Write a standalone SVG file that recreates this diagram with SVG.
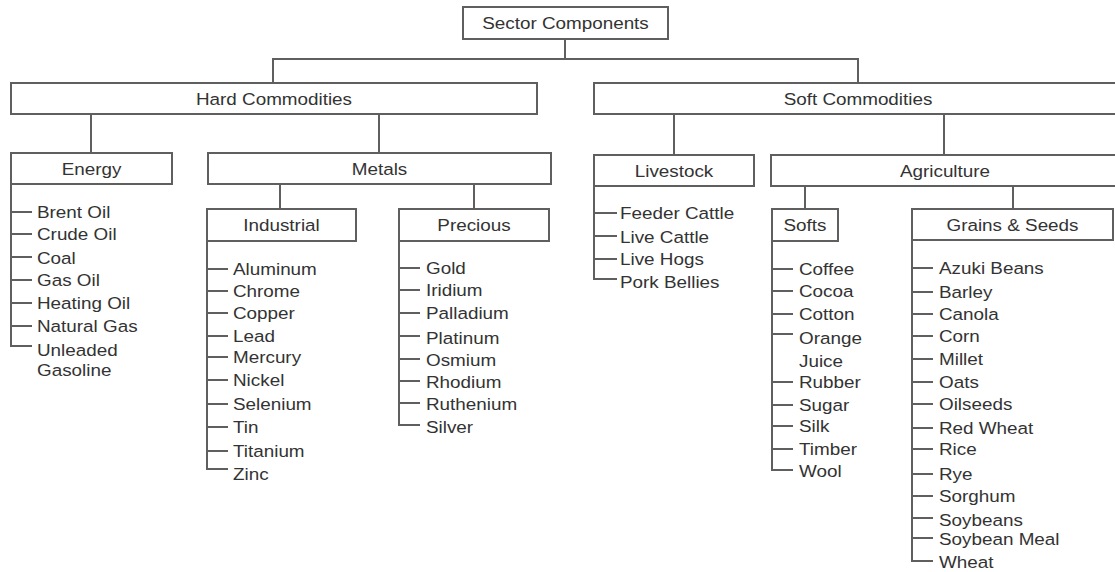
<svg xmlns="http://www.w3.org/2000/svg" width="1115" height="572" viewBox="0 0 1115 572">
<style>
.b{fill:#fff;stroke:#5f5f5f;stroke-width:2}
.c{fill:none;stroke:#5f5f5f;stroke-width:2}
text{font-family:"Liberation Sans",Arial,sans-serif;font-size:17px;fill:#333}
.m{text-anchor:middle}
</style>
<rect width="1115" height="572" fill="#fff"/>
<g id="connectors" class="c">
<path d="M565,39V59M273,83V59H858V83"/>
<path d="M91,114V153M379,114V153"/>
<path d="M674,114V155M944,114V155"/>
<path d="M280,184V209M474,184V209"/>
<path d="M805,186V209M1013,186V209"/>
<path d="M11,184V346H32M11,212H32M11,234H32M11,257H32M11,280H32M11,303H32M11,326H32"/>
<path d="M207,241V469H228M207,269H228M207,291H228M207,313H228M207,336H228M207,357H228M207,380H228M207,404H228M207,427H228M207,451H228"/>
<path d="M399,241V425H420M399,268H420M399,290H420M399,313H420M399,336H420M399,359H420M399,381H420M399,403H420"/>
<path d="M594,186V279H617M594,213H617M594,236H617M594,259H617"/>
<path d="M772,241V470H793M772,269H793M772,291H793M772,314H793M772,334H793M772,382H793M772,405H793M772,426H793M772,449H793"/>
<path d="M912,240V561H933M912,268H933M912,292H933M912,314H933M912,336H933M912,359H933M912,382H933M912,404H933M912,428H933M912,449H933M912,474H933M912,496H933M912,518H933M912,538H933"/>
</g>
<g id="sector"><rect class="b" x="463" y="7" width="205" height="32"/><text class="m" transform="matrix(1.11 0 0 1 565.5 29)">Sector Components</text></g>
<g id="hard"><rect class="b" x="11" y="83" width="526" height="31"/><text class="m" transform="matrix(1.11 0 0 1 274 105)">Hard Commodities</text></g>
<g id="soft"><rect class="b" x="594" y="83" width="528" height="31"/><text class="m" transform="matrix(1.11 0 0 1 858 105)">Soft Commodities</text></g>
<g id="energy"><rect class="b" x="11" y="153" width="161" height="31"/><text class="m" transform="matrix(1.11 0 0 1 91.5 175)">Energy</text>
<text transform="matrix(1.11 0 0 1 37 218)">Brent Oil</text>
<text transform="matrix(1.11 0 0 1 37 240)">Crude Oil</text>
<text transform="matrix(1.11 0 0 1 37 264)">Coal</text>
<text transform="matrix(1.11 0 0 1 37 286)">Gas Oil</text>
<text transform="matrix(1.11 0 0 1 37 309)">Heating Oil</text>
<text transform="matrix(1.11 0 0 1 37 332)">Natural Gas</text>
<text transform="matrix(1.11 0 0 1 37 356)">Unleaded</text>
<text transform="matrix(1.11 0 0 1 37 376)">Gasoline</text>
</g>
<g id="metals"><rect class="b" x="208" y="153" width="343" height="31"/><text class="m" transform="matrix(1.11 0 0 1 379.5 175)">Metals</text></g>
<g id="industrial"><rect class="b" x="207" y="209" width="149" height="32"/><text class="m" transform="matrix(1.11 0 0 1 281.5 231)">Industrial</text>
<text transform="matrix(1.11 0 0 1 233 275)">Aluminum</text>
<text transform="matrix(1.11 0 0 1 233 297)">Chrome</text>
<text transform="matrix(1.11 0 0 1 233 319)">Copper</text>
<text transform="matrix(1.11 0 0 1 233 342)">Lead</text>
<text transform="matrix(1.11 0 0 1 233 363)">Mercury</text>
<text transform="matrix(1.11 0 0 1 233 386)">Nickel</text>
<text transform="matrix(1.11 0 0 1 233 410)">Selenium</text>
<text transform="matrix(1.11 0 0 1 233 433)">Tin</text>
<text transform="matrix(1.11 0 0 1 233 457)">Titanium</text>
<text transform="matrix(1.11 0 0 1 233 480)">Zinc</text>
</g>
<g id="precious"><rect class="b" x="399" y="209" width="150" height="32"/><text class="m" transform="matrix(1.11 0 0 1 474 231)">Precious</text>
<text transform="matrix(1.11 0 0 1 426 274)">Gold</text>
<text transform="matrix(1.11 0 0 1 426 296)">Iridium</text>
<text transform="matrix(1.11 0 0 1 426 319)">Palladium</text>
<text transform="matrix(1.11 0 0 1 426 344)">Platinum</text>
<text transform="matrix(1.11 0 0 1 426 366)">Osmium</text>
<text transform="matrix(1.11 0 0 1 426 388)">Rhodium</text>
<text transform="matrix(1.11 0 0 1 426 410)">Ruthenium</text>
<text transform="matrix(1.11 0 0 1 426 433)">Silver</text>
</g>
<g id="livestock"><rect class="b" x="594" y="155" width="160" height="31"/><text class="m" transform="matrix(1.11 0 0 1 674 177)">Livestock</text>
<text transform="matrix(1.11 0 0 1 620 219)">Feeder Cattle</text>
<text transform="matrix(1.11 0 0 1 620 243)">Live Cattle</text>
<text transform="matrix(1.11 0 0 1 620 265)">Live Hogs</text>
<text transform="matrix(1.11 0 0 1 620 288)">Pork Bellies</text>
</g>
<g id="agriculture"><rect class="b" x="771" y="155" width="348" height="31"/><text class="m" transform="matrix(1.11 0 0 1 945 177)">Agriculture</text></g>
<g id="softs"><rect class="b" x="772" y="209" width="66" height="32"/><text class="m" transform="matrix(1.11 0 0 1 805 231)">Softs</text>
<text transform="matrix(1.11 0 0 1 799 275)">Coffee</text>
<text transform="matrix(1.11 0 0 1 799 297)">Cocoa</text>
<text transform="matrix(1.11 0 0 1 799 320)">Cotton</text>
<text transform="matrix(1.11 0 0 1 799 344)">Orange</text>
<text transform="matrix(1.11 0 0 1 799 367)">Juice</text>
<text transform="matrix(1.11 0 0 1 799 388)">Rubber</text>
<text transform="matrix(1.11 0 0 1 799 411)">Sugar</text>
<text transform="matrix(1.11 0 0 1 799 432)">Silk</text>
<text transform="matrix(1.11 0 0 1 799 455)">Timber</text>
<text transform="matrix(1.11 0 0 1 799 477)">Wool</text>
</g>
<g id="grains"><rect class="b" x="912" y="209" width="201" height="31"/><text class="m" transform="matrix(1.11 0 0 1 1012.5 231)">Grains &amp; Seeds</text>
<text transform="matrix(1.11 0 0 1 939 274)">Azuki Beans</text>
<text transform="matrix(1.11 0 0 1 939 298)">Barley</text>
<text transform="matrix(1.11 0 0 1 939 320)">Canola</text>
<text transform="matrix(1.11 0 0 1 939 342)">Corn</text>
<text transform="matrix(1.11 0 0 1 939 365)">Millet</text>
<text transform="matrix(1.11 0 0 1 939 388)">Oats</text>
<text transform="matrix(1.11 0 0 1 939 410)">Oilseeds</text>
<text transform="matrix(1.11 0 0 1 939 434)">Red Wheat</text>
<text transform="matrix(1.11 0 0 1 939 455)">Rice</text>
<text transform="matrix(1.11 0 0 1 939 480)">Rye</text>
<text transform="matrix(1.11 0 0 1 939 502)">Sorghum</text>
<text transform="matrix(1.11 0 0 1 939 526)">Soybeans</text>
<text transform="matrix(1.11 0 0 1 939 545)">Soybean Meal</text>
<text transform="matrix(1.11 0 0 1 939 568)">Wheat</text>
</g>
</svg>
